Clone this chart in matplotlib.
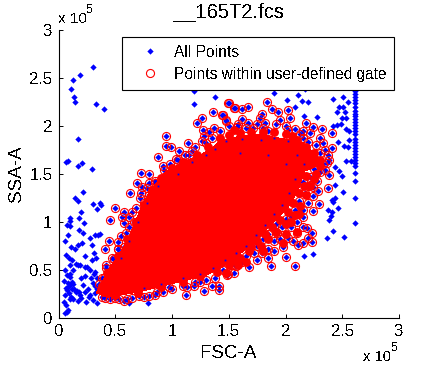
import numpy as np
from matplotlib import pyplot as plt

plt.rcParams['font.family'] = ['Liberation Sans', 'DejaVu Sans']
plt.rcParams['text.antialiased'] = False

title = '__165T2.fcs'
xlabel = 'FSC-A'
ylabel = 'SSA-A'
ticks = [0, 0.5, 1, 1.5, 2, 2.5, 3]
tick_labels = ['0', '0.5', '1', '1.5', '2', '2.5', '3']

# blue points outside the gate, units of 1e5
outer_x = [.307, .192, .13, .113, .139, .148, .333, .404, .175, .087, .07, .21, .175, .292,
           .741, 1.191, 1.197, 1.376, 1.902, 2.01, 2.113, 2.142, 2.2, 2.084, 2.175, 2.175,
           2.407, 2.416, 2.509, 2.548, 2.474, 2.509, 2.524, 2.451, 2.166, 2.281, 2.5, 2.533,
           2.456, 2.486, 2.416, 2.533, 2.562, 2.515, 2.553, 2.562, 2.466, 2.436, 2.534, 2.574,
           2.5, 2.44, 2.51, 2.474, 2.436, 2.407, 2.416, 2.466, 2.378, 2.407, 2.398, 2.386,
           2.422, 2.369, 2.518, 2.166, 2.245,
           .141, .176, .215, .3, .362, .376, .338, .197, .185, .226, .103, .097, .074, .097,
           .185, .215, .274, .324, .345, .362, .088, .059, .206, .176, .294, .109, .147, .235,
           .309, .09, .12, .15, .07, .1, .19, .25, .28, .33, .06, .075, .105, .2, .23, .31, .29,
           .074, .06, .088, .068, .05, .059, .088, .115, .132, .162, .191, .235, .279, .324,
           .338, .338, .103, .132, .176, .235, .294, .324, .338, .09, .11, .13, .15, .17, .2,
           .24, .27, .3, .07, .08, .1, .12, .14, .18, .22, .26, .3, .32, .05, .075, .105, .618, .788]
outer_y = [2.61, 2.53, 2.476, 2.39, 2.305, 2.247, 2.226, 2.174, 1.861, 1.639, 1.63, 1.61, 1.58, 1.549,
           2.444, 2.361, 2.226, 2.306, 2.34, 2.271, 2.319, 2.26, 2.247, 2.194, 2.417, 2.389,
           2.403, 2.278, 2.299, 2.253, 2.194, 2.194, 2.149, 2.142, 2.108, 2.09, 2.08, 2.08,
           2.01, 2.021, 2.0, 1.965, 1.951, 1.792, 1.785, 1.854, 1.837, 1.576, 1.635, 1.639,
           1.479, 1.385, 1.309, 1.531, 1.247, 1.229, 1.212, 1.142, 1.125, 1.108, 1.062, 1.021,
           .906, .83, .84, .649, .663,
           1.247, 1.219, 1.309, 1.188, 1.194, 1.174, 1.135, 1.1, 1.038, .986, 1.038, 1.01, .969, .958,
           .917, .882, .83, .865, .868, .87, .865, .806, .785, .76, .76, .743, .719, .646,
           .674, .62, .6, .56, .66, .55, .55, .53, .5, .62, .5, .45, .46, .42, .44, .46, .42,
           .066, .05, .083, .135, .17, .24, .326, .3, .35, .28, .24, .27, .24, .26,
           .153, .3, .431, .5, .552, .53, .604, .48, .42, .26, .22, .2, .27, .18, .21,
           .17, .22, .19, .31, .36, .34, .38, .3, .27, .34, .3, .36, .33, .39, .29, .2, .153, .153]

# column of saturated FSC values at the right edge
edge_y = [2.45, 2.42, 2.39, 2.36, 2.33, 2.30, 2.27, 2.24, 2.20, 2.16, 2.13, 2.10, 2.07, 2.04,
          2.01, 1.98, 1.95, 1.92, 1.86, 1.83, 1.80, 1.77, 1.74, 1.71, 1.68, 1.65, 1.61, 1.58,
          1.507, 1.43, 1.247, .986]
edge_x = [2.615] * len(edge_y)

# points on the fringe of the gate, units of 1e5
gate_x = [1.5, 1.553, 1.365, 1.444, 1.479, 1.262, 1.218, 1.271, 1.324, 1.374, .95, .95, .991, 1.138,
          1.065, 1.176, 1.112, 1.032, .874, 1.262, 1.574, .926,
          .726, .794, .691, .8, .853, .735, .632, .726, .794, .75, .5, .574, .647, .559, .45, .579,
          .662, .597, .441, .521, .406, .521, .574, .485, .418, .397, .412, .529, .574, .706, .794,
          .868, .971, 1.124, 1.132, 1.191, 1.244, 1.285, 1.353, 1.412, 1.412, 1.185, 1.491, 1.568, 1.47,
          1.488, 1.564, 1.681, 1.614, 1.872, 2.002, 2.081, 1.849, 1.79, 1.981, 2.113, 2.231, 2.192,
          2.231, 2.104, 2.025, 1.922, 2.245, 2.295, 2.157, 2.289, 2.378, 2.245, 2.384,
          1.496, 1.549, 1.614, 1.667, 1.834, 1.884, 1.931, 2.025, 1.79, 1.775, 1.446, 1.476, 1.952,
          2.04, 1.62, 1.673, 1.57, 1.717, 1.82, 2.025, 2.181, 2.245, 2.324, 2.128, 2.406, 2.333,
          2.406, 2.378, 2.362]
gate_y = [2.236, 2.19, 2.149, 2.111, 2.062, 2.083, 2.028, 1.958, 1.934, 1.976, 1.896, 1.792, 1.778, 1.819,
          1.743, 1.743, 1.694, 1.653, 1.674, 1.847, 1.986, 1.542,
          1.507, 1.497, 1.41, 1.41, 1.41, 1.368, 1.306, 1.299, 1.281, 1.194, 1.149, 1.1, 1.108, 1.056,
          1.017, .993, 1.003, .889, .806, .788, .722, .715, .736, .611, .549, .413, .205, .194, .181,
          .229, .229, .274, .319, .236, .326, .333, .372, .281, .33, .333, .292, .465, .455, .545, .604,
          .448, .545, .528, .587, .542, .632, .538, .622, .674, .743, .76, .788, .934,
          .882, .882, .83, .889, 1.118, 1.184, 1.056, 1.326, 1.351, 1.368, 1.49,
          2.236, 2.191, 2.177, 2.201, 2.25, 2.177, 2.142, 2.163, 2.125, 2.08, 2.115, 2.056, 2.063,
          2.083, 2.073, 2.028, 1.993, 1.976, 2.028, 1.958, 2.028, 1.993, 1.965, 1.917, 1.931, 1.819,
          1.767, 1.698, 1.611]

# denser ring of gated points hugging the solid core
ring_pts = [(2.15, 1.88), (2.2, 1.83), (2.27, 1.8), (2.35, 1.75), (2.3, 1.72), (2.38, 1.65), (2.33, 1.6),
            (2.35, 1.54), (2.3, 1.52), (2.25, 1.55), (2.22, 1.47), (2.28, 1.43), (2.2, 1.38), (2.15, 1.42),
            (2.24, 1.27), (2.17, 1.3), (2.2, 1.2), (2.12, 1.22), (2.15, 1.13), (2.08, 1.12), (2.05, 1.05),
            (2.0, 1.03), (2.1, 1.0), (2.05, .95), (1.97, .95), (1.92, .98), (2.15, .95), (2.2, .83),
            (2.15, .78), (2.07, .8), (1.95, .82), (1.9, .8), (1.85, .88), (1.8, .82), (1.85, .72), (1.75, .75),
            (1.72, .68), (1.65, .65), (1.58, .62), (1.52, .55), (1.45, .5), (1.38, .42), (1.3, .4), (1.2, .38),
            (1.1, .33), (1.0, .3), (.92, .27), (.85, .24), (.75, .22), (.65, .21), (.6, .2), (.5, .21),
            (.45, .2), (.38, .22), (1.9, .7), (1.75, .6), (1.55, .47),
            (1.3, 1.82), (1.35, 1.88), (1.28, 1.9), (1.42, 1.95), (1.5, 2.0), (1.58, 2.02), (1.65, 1.98),
            (1.75, 2.02), (1.8, 1.98), (1.85, 1.95), (1.92, 2.02), (2.0, 2.0), (2.08, 1.97), (2.15, 1.95),
            (2.22, 1.93), (2.3, 1.88), (1.2, 1.78), (1.15, 1.7), (1.05, 1.65), (.98, 1.6), (.92, 1.58),
            (.85, 1.43), (.78, 1.35), (.72, 1.25), (.68, 1.15), (.62, 1.05), (.62, .95), (.55, .85),
            (.52, .72), (.47, .62), (.42, .52), (.38, .42), (.36, .35)]

# gated points packed between the ring and the core, mostly hidden under the red
inner_pts = [(1.5, .55), (1.6, .62), (1.68, .7), (1.75, .8), (1.82, .88), (1.88, .95), (1.95, 1.02), (2.02, 1.1),
             (2.07, 1.2), (2.12, 1.3), (2.16, 1.38), (2.18, 1.48), (2.24, 1.62), (2.3, 1.65), (2.25, 1.72),
             (2.18, 1.78), (2.1, 1.85), (2.0, 1.92), (1.9, 1.94), (1.8, 1.94), (1.7, 1.94), (1.6, 1.93),
             (1.5, 1.91), (1.42, 1.87), (1.32, 1.78), (1.22, 1.7), (1.1, 1.63), (1.0, 1.56), (.9, 1.46),
             (.82, 1.33), (.75, 1.18), (.68, 1.0), (.6, .82), (.52, .65), (.43, .47), (.38, .33), (.5, .24),
             (.7, .26), (.9, .32), (1.1, .38), (1.25, .44), (1.4, .48), (1.55, .6), (1.7, .74), (1.78, .75),
             (1.85, .82), (1.92, .9), (2.0, .98), (2.08, 1.07), (2.13, 1.17), (2.18, 1.28), (2.22, 1.37),
             (2.25, 1.45), (2.3, 1.58), (1.65, .58), (1.48, .47), (2.0, .88), (2.1, .9), (1.98, .78),
             (1.58, .55), (1.8, .7), (2.05, 1.0), (2.12, 1.08), (2.27, 1.5), (2.06, 1.9), (1.55, 1.96)]

# blue specks showing through the core
speck_pts = [(1.05, 1.5), (1.18, 1.62), (1.3, 1.7), (1.38, 1.76), (1.48, 1.84), (1.62, 1.86), (1.78, 1.85),
             (1.9, 1.88), (2.02, 1.84), (2.1, 1.7), (2.16, 1.6), (2.08, 1.45), (2.03, 1.3), (1.97, 1.18),
             (1.9, 1.08), (1.82, .97), (1.74, .86), (1.65, .75), (1.56, .68), (1.47, .6), (1.36, .52),
             (1.25, .46), (1.1, .42), (.9, .35), (.75, .31), (.55, .62), (.62, .8), (.7, 1.0), (.78, 1.2),
             (.88, 1.38), (1.85, 1.7), (1.6, 1.72), (2.0, 1.6)]

# outline of the solid red core of the gate
core_x = [.35, .43, .72, .956, 1.13, 1.31, 1.426, 1.6, 1.717, 1.864, 2.01, 2.1, 2.156, 2.28, 2.27, 2.13,
          1.75, 1.6, 1.42, 1.37, 1.25, 1.1, 1.01, .956, .9, .81, .72, .647, .574, .456]
core_y = [.27, .23, .29, .36, .41, .465, .535, .69, .795, .986, 1.156, 1.333, 1.54, 1.6, 1.68, 1.82,
          1.9, 1.88, 1.83, 1.77, 1.68, 1.61, 1.54, 1.52, 1.44, 1.3, 1.09, .882, .708, .5]

ring_x = [p[0] for p in ring_pts]
ring_y = [p[1] for p in ring_pts]
inner_x = [p[0] for p in inner_pts]
inner_y = [p[1] for p in inner_pts]
speck_x = [p[0] for p in speck_pts]
speck_y = [p[1] for p in speck_pts]

all_x = outer_x + edge_x + gate_x + ring_x
all_y = outer_y + edge_y + gate_y + ring_y

fig = plt.figure(figsize=(4.41, 3.65), dpi=100)
ax = fig.add_axes([58.5 / 441, 47 / 365, 340.5 / 441, 288 / 365])

h_all, = ax.plot(all_x, all_y, 'D', color='#0000ff', ms=3.2, mew=0, antialiased=False, zorder=2)
ax.fill(core_x, core_y, color='#ff0000', lw=2, antialiased=False, zorder=3)
ax.plot(inner_x, inner_y, 'o', color='#ff0000', ms=6.4, mew=0, zorder=3)
ax.plot(speck_x, speck_y, 's', color='#0000ff', ms=1.3, mew=0, antialiased=False, zorder=5)
h_gate, = ax.plot(gate_x + ring_x, gate_y + ring_y, 'o', mfc='none', mec='#ff0000', ms=5.8, mew=0.8, zorder=4)

ax.set_xlim(0, 3)
ax.set_ylim(0, 3)
ax.set_xticks(ticks)
ax.set_xticklabels(tick_labels)
ax.set_yticks(ticks)
ax.set_yticklabels(tick_labels)
ax.tick_params(direction='in', length=3, width=0.7, labelsize=12, pad=4.5)
ax.spines['top'].set_visible(False)
ax.spines['right'].set_visible(False)

ax.set_title(title, fontsize=14.5, pad=9)
ax.set_xlabel(xlabel, fontsize=13.5, labelpad=4)
ax.set_ylabel(ylabel, fontsize=13.5, labelpad=3)

fig.text(58 / 441, 1 - 23 / 365, 'x 10', fontsize=11)
fig.text(86 / 441, 1 - 13 / 365, '5', fontsize=9)
fig.text(363 / 441, 1 - 361 / 365, 'x 10', fontsize=10.5)
fig.text(391 / 441, 1 - 351 / 365, '5', fontsize=8.5)

leg = fig.legend([h_all, h_gate], ['All Points', 'Points within user-defined gate'],
                 loc='lower left', bbox_to_anchor=(122 / 441, 1 - 89.5 / 365, 272 / 441, 46 / 365),
                 mode='expand', fontsize=11.2, fancybox=False, framealpha=1, edgecolor='k',
                 borderaxespad=0, borderpad=0.5, labelspacing=0.45, handlelength=2.6, handletextpad=0.22)
leg.get_frame().set_linewidth(0.8)

fig.savefig('out.png', dpi=100)
